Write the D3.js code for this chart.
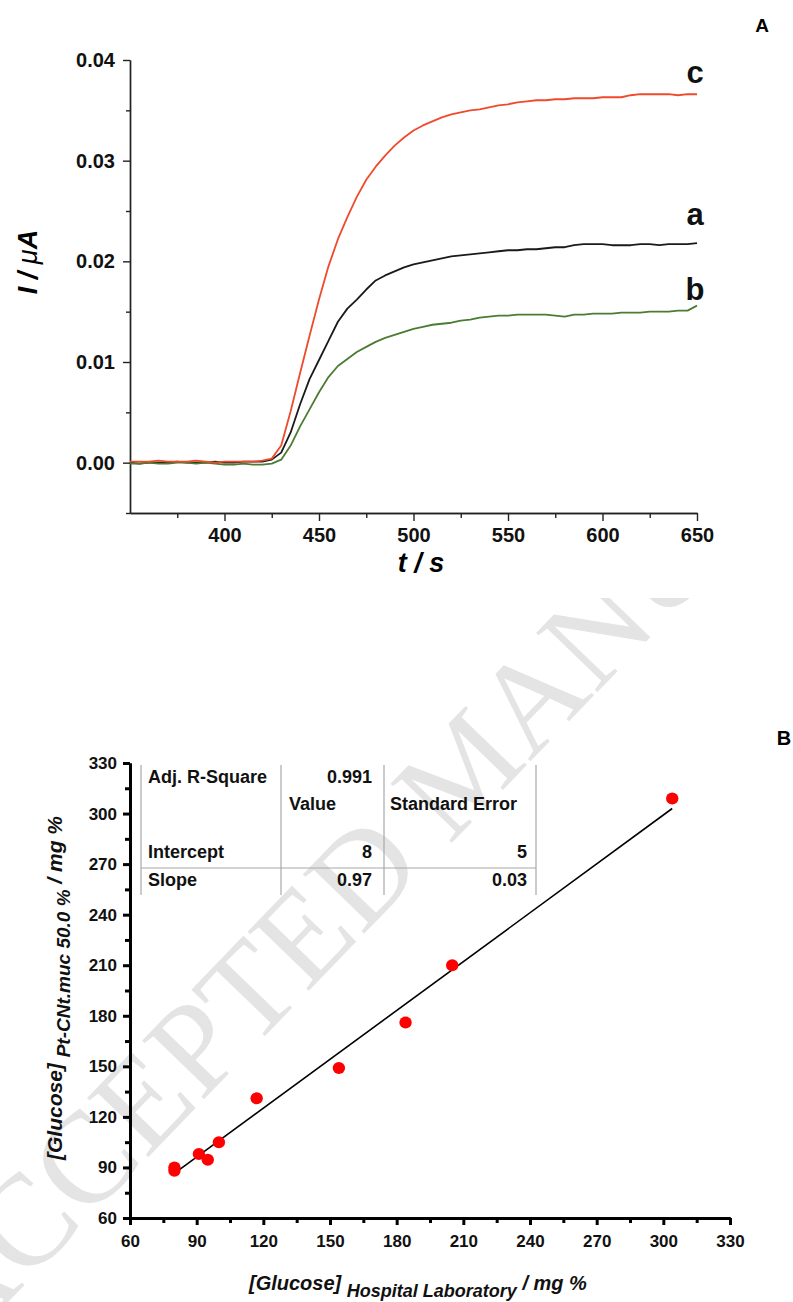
<!DOCTYPE html>
<html>
<head>
<meta charset="utf-8">
<script src="https://cdn.jsdelivr.net/npm/d3@7/dist/d3.min.js"></script>
<style>
	body { margin: 0; background: #fff; }
	svg { display: block; }
	text { font-family: "Liberation Sans", Arial, sans-serif; }
</style>
</head>
<body>
<div id="chart"></div>
<script>
// ---- panel A : current vs time ----
var timeA = [350,355,360,365,370,375,380,385,390,395,400,405,410,415,420,
	425,430,435,440,445,450,455,460,465,470,475,480,485,490,495,500,505,510,515,520,525,
	530,535,540,545,550,555,560,565,570,575,580,585,590,595,600,605,610,615,620,625,630,
	635,640,645,650];

var curveA = [0.0000,-0.0001,0.0000,0.0000,0.0000,0.0001,0.0000,0.0000,0.0000,0.0001,0.0000,0.0000,0.0001,0.0001,0.0001,
	0.0003,0.0010,0.0030,0.0058,0.0083,0.0102,0.0121,0.0140,0.0153,0.0162,0.0172,0.0181,0.0186,0.0190,0.0194,0.0197,
	0.0199,0.0201,0.0203,0.0205,0.0206,0.0207,0.0208,0.0209,0.0210,0.0211,0.0211,0.0212,0.0212,0.0213,0.0214,0.0214,
	0.0216,0.0217,0.0217,0.0217,0.0216,0.0216,0.0216,0.0217,0.0217,0.0216,0.0217,0.0217,0.0217,0.0218];

var curveB = [-0.0001,-0.0001,0.0000,-0.0001,-0.0001,0.0000,0.0000,-0.0001,0.0000,-0.0001,-0.0002,-0.0002,-0.0001,-0.0002,-0.0002,
	-0.0001,0.0003,0.0017,0.0036,0.0053,0.0070,0.0085,0.0096,0.0103,0.0110,0.0115,0.0120,0.0124,0.0127,0.0130,0.0133,
	0.0135,0.0137,0.0138,0.0139,0.0141,0.0142,0.0144,0.0145,0.0146,0.0146,0.0147,0.0147,0.0147,0.0147,0.0146,0.0145,
	0.0147,0.0147,0.0148,0.0148,0.0148,0.0149,0.0149,0.0149,0.0150,0.0150,0.0150,0.0151,0.0151,0.0156];

var curveC = [0.0001,0.0001,0.0001,0.0002,0.0001,0.0001,0.0001,0.0002,0.0001,0.0000,0.0001,0.0001,0.0001,0.0001,0.0002,
	0.0004,0.0017,0.0051,0.0089,0.0126,0.0162,0.0195,0.0222,0.0244,0.0264,0.0281,0.0294,0.0305,0.0315,0.0323,0.0330,
	0.0335,0.0339,0.0343,0.0346,0.0348,0.0350,0.0351,0.0353,0.0355,0.0356,0.0358,0.0359,0.0360,0.0360,0.0361,0.0361,
	0.0362,0.0362,0.0362,0.0363,0.0363,0.0363,0.0365,0.0366,0.0366,0.0366,0.0366,0.0365,0.0366,0.0366];

var seriesNames = ["a", "b", "c"];
var seriesColors = ["#1a1a1a", "#4b7c33", "#ef4a2b"];

var xMajorA = [400, 450, 500, 550, 600, 650];
var xMinorA = [375, 425, 475, 525, 575, 625];
var yMajorA = [0.00, 0.01, 0.02, 0.03, 0.04];
var yMinorA = [-0.005, 0.005, 0.015, 0.025, 0.035];

// ---- panel B : sensor vs hospital ----
var hospital = [80, 80, 91, 95, 100, 117, 154, 184, 205, 304];
var sensor   = [90, 88, 98, 94.5, 105, 131, 149, 176, 210, 309];
var fitX = [79.5, 304];
var fitY = [86, 303];

var majorB = [60, 90, 120, 150, 180, 210, 240, 270, 300, 330];
var minorB = [75, 105, 135, 165, 195, 225, 255, 285, 315];

var fitRows = [
	["Adj. R-Square", "0.991", ""],
	["", "Value", "Standard Error"],
	["Intercept", "8", "5"],
	["Slope", "0.97", "0.03"]
];

var W = 793, H = 1302;
var svg = d3.select("#chart").append("svg").attr("width", W).attr("height", H);

// watermark, only visible over the lower panel
svg.append("clipPath").attr("id", "wmClip")
	.append("rect").attr("x", 0).attr("y", 598).attr("width", W).attr("height", H - 598);

svg.append("g").attr("clip-path", "url(#wmClip)")
	.append("text")
	.attr("transform", "translate(-40,1352) rotate(-46)")
	.attr("font-size", 130)
	.attr("fill", "#e4e4e4")
	.style("font-family", "'Liberation Serif', 'DejaVu Serif', serif")
	.text("ACCEPTED MANUSCRIPT");

function drawAxis(g, axis, opts) {
	g.call(axis);
	g.select(".domain").attr("stroke", opts.color).attr("stroke-width", opts.width);
	g.selectAll(".tick line").attr("stroke", opts.color).attr("stroke-width", opts.width);
	g.selectAll(".tick text")
		.attr("fill", "#111")
		.attr("font-size", opts.fontSize)
		.attr("font-weight", "bold")
		.style("font-family", "'Liberation Sans', Arial, sans-serif");
}

function panelA() {
	var x = d3.scaleLinear().domain([350, 650]).range([130, 697]);
	var y = d3.scaleLinear().domain([-0.005, 0.04]).range([513, 60]);
	var st = {color: "#222", width: 1.4, fontSize: 20};

	drawAxis(svg.append("g").attr("transform", "translate(0,513)"),
		d3.axisBottom(x).tickValues(xMinorA).tickSize(5).tickSizeOuter(0).tickFormat(""), st);
	drawAxis(svg.append("g").attr("transform", "translate(0,513)"),
		d3.axisBottom(x).tickValues(xMajorA).tickSize(8).tickPadding(7).tickSizeOuter(0).tickFormat(d3.format("d")), st);
	drawAxis(svg.append("g").attr("transform", "translate(130,0)"),
		d3.axisLeft(y).tickValues(yMinorA).tickSize(4).tickSizeOuter(0).tickFormat(""), st);
	drawAxis(svg.append("g").attr("transform", "translate(130,0)"),
		d3.axisLeft(y).tickValues(yMajorA).tickSize(7).tickPadding(8).tickSizeOuter(0).tickFormat(d3.format(".2f")), st);

	var line = d3.line()
		.x(function(d, i) { return x(timeA[i]); })
		.y(function(d) { return y(d); });

	[curveA, curveB, curveC].forEach(function(c, i) {
		svg.append("path")
			.datum(c)
			.attr("fill", "none")
			.attr("stroke", seriesColors[i])
			.attr("stroke-width", 1.8)
			.attr("stroke-linejoin", "round")
			.attr("d", line);
	});

	// curve labels at the right end
	var labelY = [225, 300, 83];
	seriesNames.forEach(function(n, i) {
		svg.append("text")
			.attr("x", 695).attr("y", labelY[i])
			.attr("text-anchor", "middle")
			.attr("font-size", 31).attr("font-weight", "bold")
			.attr("fill", "#111")
			.text(n);
	});

	svg.append("text").attr("x", 762).attr("y", 32)
		.attr("text-anchor", "middle").attr("font-size", 19).attr("font-weight", "bold")
		.text("A");

	svg.append("text").attr("x", 421).attr("y", 572)
		.attr("text-anchor", "middle").attr("font-size", 27)
		.attr("font-weight", "bold").attr("font-style", "italic")
		.text("t / s");

	var yt = svg.append("text")
		.attr("transform", "translate(37,262) rotate(-90)")
		.attr("text-anchor", "middle").attr("font-size", 27)
		.attr("font-weight", "bold").attr("font-style", "italic");
	yt.append("tspan").text("I / ");
	yt.append("tspan").attr("font-weight", "normal").text("\u03bc");
	yt.append("tspan").text("A");
}

function panelB() {
	var x = d3.scaleLinear().domain([60, 330]).range([130, 730]);
	var y = d3.scaleLinear().domain([60, 330]).range([1218, 763]);
	var st = {color: "#000", width: 3, fontSize: 17};

	// fit table
	var colX = [141, 281, 384, 536];
	var rowY = [783, 810, 858, 886];
	var tbl = svg.append("g");
	colX.forEach(function(cx) {
		tbl.append("line").attr("x1", cx).attr("x2", cx).attr("y1", 765).attr("y2", 895)
			.attr("stroke", "#a8a8a8").attr("stroke-width", 1.2);
	});
	tbl.append("line").attr("x1", 141).attr("x2", 536).attr("y1", 868).attr("y2", 868)
		.attr("stroke", "#a8a8a8").attr("stroke-width", 1.2);

	fitRows.forEach(function(r, i) {
		var g = tbl.append("g").attr("font-size", 18).attr("font-weight", "bold").attr("fill", "#111");
		g.append("text").attr("x", 148).attr("y", rowY[i]).text(r[0]);
		if (i == 1) {
			g.append("text").attr("x", 289).attr("y", rowY[i]).text(r[1]);
			g.append("text").attr("x", 390).attr("y", rowY[i]).text(r[2]);
		} else {
			g.append("text").attr("x", 372).attr("y", rowY[i]).attr("text-anchor", "end").text(r[1]);
			g.append("text").attr("x", 527).attr("y", rowY[i]).attr("text-anchor", "end").text(r[2]);
		}
	});

	drawAxis(svg.append("g").attr("transform", "translate(0,1218)"),
		d3.axisBottom(x).tickValues(minorB).tickSize(5).tickSizeOuter(0).tickFormat(""), st);
	drawAxis(svg.append("g").attr("transform", "translate(0,1218)"),
		d3.axisBottom(x).tickValues(majorB).tickSize(7).tickPadding(10).tickSizeOuter(0).tickFormat(d3.format("d")), st);
	drawAxis(svg.append("g").attr("transform", "translate(130,0)"),
		d3.axisLeft(y).tickValues(minorB).tickSize(5).tickSizeOuter(0).tickFormat(""), st);
	drawAxis(svg.append("g").attr("transform", "translate(130,0)"),
		d3.axisLeft(y).tickValues(majorB).tickSize(7).tickPadding(6).tickSizeOuter(0).tickFormat(d3.format("d")), st);

	svg.append("path")
		.datum(fitX)
		.attr("fill", "none").attr("stroke", "#000").attr("stroke-width", 1.6)
		.attr("d", d3.line().x(function(d) { return x(d); }).y(function(d, i) { return y(fitY[i]); }));

	svg.selectAll("ellipse.pt")
		.data(hospital)
		.enter().append("ellipse")
		.attr("class", "pt")
		.attr("cx", function(d) { return x(d); })
		.attr("cy", function(d, i) { return y(sensor[i]); })
		.attr("rx", 6.2).attr("ry", 6)
		.attr("fill", "#ff0000");

	svg.append("text").attr("x", 784).attr("y", 745)
		.attr("text-anchor", "middle").attr("font-size", 20).attr("font-weight", "bold")
		.text("B");

	var xt = svg.append("text").attr("x", 249).attr("y", 1290)
		.attr("font-weight", "bold").attr("font-style", "italic").attr("font-size", 20).attr("fill", "#111");
	xt.append("tspan").text("[Glucose] ");
	xt.append("tspan").attr("dy", 7).attr("font-size", 18).text("Hospital Laboratory");
	xt.append("tspan").attr("dy", -7).text(" / mg %");

	var yt = svg.append("text")
		.attr("transform", "translate(62,988) rotate(-90)")
		.attr("text-anchor", "middle")
		.attr("font-weight", "bold").attr("font-style", "italic").attr("font-size", 21).attr("fill", "#111");
	yt.append("tspan").text("[Glucose] ");
	yt.append("tspan").attr("dy", 8).attr("font-size", 19).text("Pt-CNt.muc 50.0 %");
	yt.append("tspan").attr("dy", -8).text(" / mg %");
}

panelA();
panelB();
</script>
</body>
</html>
